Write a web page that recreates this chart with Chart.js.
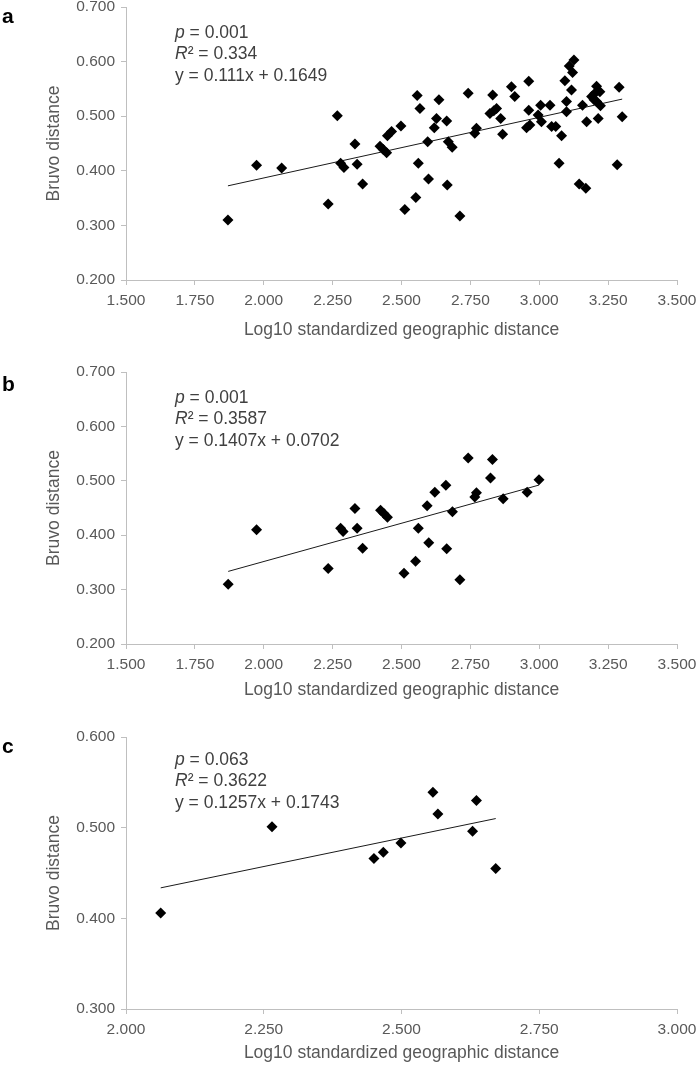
<!DOCTYPE html>
<html>
<head>
<meta charset="utf-8">
<script src="https://cdn.jsdelivr.net/npm/chart.js@4/dist/chart.umd.min.js"></script>
<style>
  body { margin: 0; background: #fff; }
  #wrap { position: relative; width: 700px; height: 1066px; }
  .panel { position: absolute; left: 0; width: 700px; }
</style>
</head>
<body>
<div id="wrap">
  <div class="panel" style="top:0px;height:350px"><canvas id="chartA"></canvas></div>
  <div class="panel" style="top:355px;height:355px"><canvas id="chartB"></canvas></div>
  <div class="panel" style="top:710px;height:356px"><canvas id="chartC"></canvas></div>
</div>
<script>
// panel a: all pairs [log10 geographic distance, Bruvo distance]
var pointsA = [
  [1.870, 0.310], [1.974, 0.410], [2.065, 0.405], [2.234, 0.339], [2.267, 0.501],
  [2.279, 0.414], [2.291, 0.406], [2.331, 0.449], [2.339, 0.412], [2.359, 0.376],
  [2.422, 0.445], [2.434, 0.439], [2.446, 0.433], [2.449, 0.464], [2.464, 0.472],
  [2.498, 0.482], [2.512, 0.329], [2.552, 0.351], [2.557, 0.538], [2.561, 0.414],
  [2.567, 0.514], [2.595, 0.453], [2.598, 0.385], [2.619, 0.479], [2.627, 0.496],
  [2.636, 0.530], [2.664, 0.491], [2.666, 0.374], [2.670, 0.453], [2.684, 0.443],
  [2.712, 0.317], [2.742, 0.542], [2.766, 0.469], [2.772, 0.478], [2.821, 0.505],
  [2.831, 0.539], [2.835, 0.510], [2.845, 0.514], [2.860, 0.496], [2.867, 0.467],
  [2.899, 0.554], [2.911, 0.536], [2.954, 0.479], [2.962, 0.564], [2.962, 0.511],
  [2.966, 0.484], [2.996, 0.502], [3.005, 0.520], [3.008, 0.490], [3.039, 0.520],
  [3.045, 0.481], [3.060, 0.481], [3.072, 0.414], [3.081, 0.464], [3.093, 0.565],
  [3.099, 0.508], [3.099, 0.527], [3.109, 0.592], [3.117, 0.548], [3.121, 0.580],
  [3.126, 0.603], [3.145, 0.376], [3.157, 0.520], [3.169, 0.368], [3.172, 0.490],
  [3.190, 0.536], [3.199, 0.530], [3.202, 0.542], [3.208, 0.555], [3.208, 0.527],
  [3.214, 0.496], [3.220, 0.545], [3.222, 0.519], [3.283, 0.411], [3.290, 0.553],
  [3.301, 0.499]
];
// panel b
var pointsB = [
  [1.871, 0.310], [1.974, 0.410], [2.234, 0.339], [2.279, 0.413], [2.288, 0.407],
  [2.331, 0.449], [2.339, 0.413], [2.359, 0.376], [2.424, 0.446], [2.436, 0.440],
  [2.449, 0.433], [2.509, 0.330], [2.551, 0.352], [2.561, 0.413], [2.593, 0.454],
  [2.599, 0.386], [2.621, 0.479], [2.661, 0.492], [2.664, 0.375], [2.685, 0.443],
  [2.712, 0.318], [2.742, 0.542], [2.766, 0.470], [2.772, 0.478], [2.823, 0.505],
  [2.830, 0.539], [2.869, 0.467], [2.956, 0.479], [2.999, 0.502]
];
// panel c
var pointsC = [
  [2.063, 0.406], [2.265, 0.501], [2.450, 0.466], [2.467, 0.473], [2.499, 0.483],
  [2.557, 0.539], [2.566, 0.515], [2.629, 0.496], [2.636, 0.530], [2.671, 0.455]
];

// linear fits [slope, intercept]
var fitA = [0.111, 0.1649];
var fitB = [0.1407, 0.0702];
var fitC = [0.1257, 0.1743];

// stats text
var statsA = ["0.001", "0.334", "y = 0.111x + 0.1649"];
var statsB = ["0.001", "0.3587", "y = 0.1407x + 0.0702"];
var statsC = ["0.063", "0.3622", "y = 0.1257x + 0.1743"];

// axis ranges [min, max, step]
var xRangeAB = [1.5, 3.5, 0.25];
var yRangeAB = [0.2, 0.7, 0.1];
var xRangeC = [2.0, 3.0, 0.25];
var yRangeC = [0.3, 0.6, 0.1];

var FONT = "'Liberation Sans', Arial, sans-serif";
var GREY = '#595959';
var AXIS = '#bfbfbf';

// text block + panel letter, drawn on top of the chart
var notesPlugin = {
    id: 'notes',
    afterDraw: function(chart) {
        var o = chart.options.plugins.notes;
        var ctx = chart.ctx;
        var top = chart.chartArea.top;
        ctx.save();
        ctx.textBaseline = 'middle';
        ctx.textAlign = 'left';
        // panel letter
        ctx.fillStyle = '#000';
        ctx.font = 'bold 21px ' + FONT;
        ctx.fillText(o.letter, 2, o.letterY);

        ctx.fillStyle = '#404040';
        var x = 175;
        var ys = [top + o.dy, top + o.dy + 21.5, top + o.dy + 43];
        // p line
        ctx.font = 'italic 17.5px ' + FONT;
        ctx.fillText('p', x, ys[0]);
        var w = ctx.measureText('p').width;
        ctx.font = '17.5px ' + FONT;
        ctx.fillText(' = ' + o.stats[0], x + w, ys[0]);
        // R² line
        ctx.font = 'italic 17.5px ' + FONT;
        ctx.fillText('R', x, ys[1]);
        w = ctx.measureText('R').width;
        ctx.font = '17.5px ' + FONT;
        ctx.fillText('\u00b2 = ' + o.stats[1], x + w, ys[1]);
        // equation
        ctx.fillText(o.stats[2], x, ys[2]);
        ctx.restore();
    }
};

function makePanel(id, points, fit, stats, xr, yr, opts) {
    var xs = points.map(function(p) { return p[0]; });
    var xmin = Math.min.apply(null, xs);
    var xmax = Math.max.apply(null, xs);
    var trend = [
        { x: xmin, y: fit[0] * xmin + fit[1] },
        { x: xmax, y: fit[0] * xmax + fit[1] }
    ];

    return new Chart(document.getElementById(id), {
        type: 'scatter',
        data: {
            datasets: [
                {
                    data: points.map(function(p) { return { x: p[0], y: p[1] }; }),
                    pointStyle: 'rectRot',
                    pointRadius: 5.5,
                    pointBorderWidth: 0,
                    backgroundColor: '#000',
                    borderColor: '#000'
                },
                {
                    type: 'line',
                    data: trend,
                    borderColor: '#1a1a1a',
                    borderWidth: 1,
                    pointRadius: 0,
                    fill: false
                }
            ]
        },
        options: {
            responsive: true,
            maintainAspectRatio: false,
            animation: false,
            layout: { padding: { top: opts.padTop, right: 23, left: 0, bottom: 0 } },
            plugins: {
                legend: { display: false },
                tooltip: { enabled: false },
                notes: { letter: opts.letter, letterY: opts.letterY, dy: opts.dy, stats: stats }
            },
            scales: {
                x: {
                    type: 'linear',
                    min: xr[0], max: xr[1],
                    afterBuildTicks: function(s) {
                        var t = [];
                        for (var v = xr[0]; v <= xr[1] + 1e-9; v += xr[2]) t.push({ value: v });
                        s.ticks = t;
                    },
                    afterFit: function(s) {
                        s.height = opts.xHeight;
                        s.paddingLeft = 0; s.paddingRight = 0;
                    },
                    border: { color: AXIS, width: 1 },
                    grid: { drawOnChartArea: false, color: AXIS, tickLength: 5 },
                    ticks: {
                        color: GREY, padding: 6, maxRotation: 0, autoSkip: false,
                        font: { family: FONT, size: 15.5 },
                        callback: function(v) { return v.toFixed(3); }
                    },
                    title: {
                        display: true,
                        text: 'Log10 standardized geographic distance',
                        color: GREY,
                        font: { family: FONT, size: 17.5 },
                        padding: { top: 0, bottom: opts.xTitlePad }
                    }
                },
                y: {
                    type: 'linear',
                    min: yr[0], max: yr[1],
                    afterBuildTicks: function(s) {
                        var t = [];
                        for (var v = yr[0]; v <= yr[1] + 1e-9; v += yr[2]) t.push({ value: v });
                        s.ticks = t;
                    },
                    afterFit: function(s) {
                        s.width = 126;
                        s.paddingTop = 0; s.paddingBottom = 0;
                    },
                    border: { color: AXIS, width: 1 },
                    grid: { drawOnChartArea: false, color: AXIS, tickLength: 5 },
                    ticks: {
                        color: GREY, padding: 6,
                        font: { family: FONT, size: 15.5 },
                        callback: function(v) { return v.toFixed(3); }
                    },
                    title: {
                        display: true,
                        text: 'Bruvo distance',
                        color: GREY,
                        font: { family: FONT, size: 17.5 },
                        padding: { top: 44, bottom: 0 }
                    }
                }
            }
        },
        plugins: [notesPlugin]
    });
}

var chartA = makePanel('chartA', pointsA, fitA, statsA, xRangeAB, yRangeAB,
    { letter: 'a', letterY: 17, padTop: 7, xHeight: 70, xTitlePad: 9, dy: 26 });
var chartB = makePanel('chartB', pointsB, fitB, statsB, xRangeAB, yRangeAB,
    { letter: 'b', letterY: 30, padTop: 17, xHeight: 66, xTitlePad: 9, dy: 26 });
var chartC = makePanel('chartC', pointsC, fitC, statsC, xRangeC, yRangeC,
    { letter: 'c', letterY: 37, padTop: 27, xHeight: 57, xTitlePad: 2, dy: 23 });
</script>
</body>
</html>
